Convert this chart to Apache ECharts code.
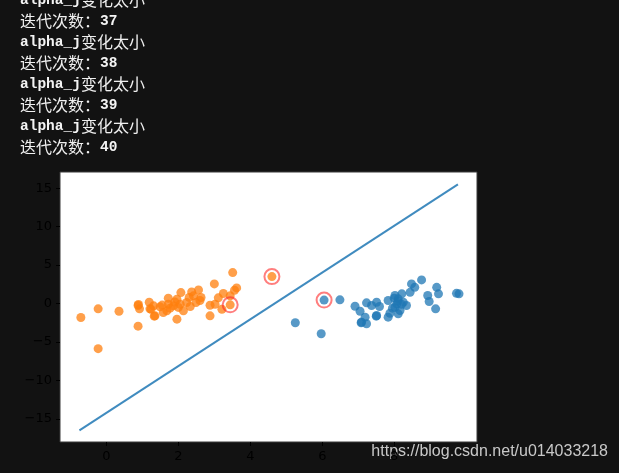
<!DOCTYPE html>
<html><head><meta charset="utf-8">
<script src="https://cdn.jsdelivr.net/npm/echarts@6/dist/echarts.min.js"></script>
<style>html,body{margin:0;padding:0;background:#121212;}#c{width:619px;height:473px;}</style>
</head><body><div id="c"></div>
<script>
const consoleLines = ["alpha_j变化太小","迭代次数：37","alpha_j变化太小","迭代次数：38","alpha_j变化太小","迭代次数：39","alpha_j变化太小","迭代次数：40"];
const orangePoints = [[-0.71,-1.81],[-0.23,-0.69],[0.35,-1.0],[-0.23,-5.87],[0.88,-2.94],[0.88,-0.26],[0.92,-0.69],[1.19,0.17],[1.21,-0.69],[1.33,-1.64],
[3.51,4.02],[3.0,2.55],[3.62,2.03],[3.56,1.73],[2.56,1.77],[2.37,1.51],[2.07,1.42],[3.25,1.30],[3.44,1.00],[2.63,0.78],[2.42,1.0],[3.11,0.74],[1.72,0.69],[1.96,0.56],[0.89,-0.13],[1.31,-0.3],[1.49,-0.43],[1.72,-0.09],[1.86,-0.3],[2.05,-0.09],[2.23,0.13],[2.33,-0.39],[2.14,-0.95],[1.68,-0.95],[1.35,-1.6],[1.96,-2.03],[1.24,-0.74],[1.58,-1.17],[2.88,-0.22],[3.02,-0.09],[3.21,-0.74],[2.88,-1.6],[3.44,-0.17],[2.49,0.13],[1.77,-0.6],[4.6,3.5],[1.9,0.2],[2.6,0.4],[1.55,-0.2],[2.0,-0.5],[2.3,0.8]];
const bluePoints = [[6.05,0.45],[6.49,0.48],[5.25,-2.5],[5.97,-3.93],[6.91,-0.35],[7.05,-1.0],[7.19,-1.77],[7.09,-2.42],[7.23,-2.63],[7.23,0.09],[7.37,-0.26],[7.51,0.17],[7.59,-0.39],[7.51,-1.55],[7.83,0.39],[7.88,-1.26],[7.83,-1.77],[8.02,1.04],[8.07,-0.04],[8.11,0.61],[8.16,-0.91],[8.21,1.26],[8.25,0.17],[8.34,-0.26],[8.44,1.46],[8.48,2.55],[8.57,2.11],[8.76,3.07],[8.02,-0.48],[8.11,-1.34],[8.93,1.04],[8.97,0.26],[9.18,2.11],[9.23,1.26],[9.15,-0.69],[9.73,1.33],[9.8,1.26],[7.08,-2.5],[7.5,-1.64],[8.1,0.3],[8.2,-0.1],[8.0,0.7],[7.95,-0.6]];
const supportVectors = [[3.44,-0.17],[4.6,3.5],[6.05,0.45]];
const lineX = [-0.75, 9.77];
const lineY = [-16.5, 15.5];
const xTicks = [0,2,4,6,8];
const yTicks = [-15,-10,-5,0,5,10,15];
const watermark = "https://blog.csdn.net/u014033218";

function richLine(s){
  let out='', cur='', curType=null;
  for(const ch of s){
    const t = ch.charCodeAt(0) < 128 ? 'a' : 'c';
    if(t!==curType && cur){ out += '{'+curType+'|'+cur+'}'; cur=''; }
    curType=t; cur+=ch;
  }
  if(cur) out += '{'+curType+'|'+cur+'}';
  return out;
}
const consoleGraphics = consoleLines.map((s,i)=>({
  type:'text', left:20, top: -8 + i*21,
  style:{ text: richLine(s), fill:'#f0f0f0',
    rich:{ a:{fontFamily:'Liberation Mono, DejaVu Sans Mono, monospace', fontSize:14.5, fontWeight:'bold', fill:'#f4f4f4', lineHeight:20},
           c:{fontFamily:'Noto Sans CJK SC', fontSize:16, fill:'#f0f0f0', lineHeight:20} } }
}));

const chart = echarts.init(document.getElementById('c'), null, {renderer:'canvas'});
const minus = v => String(v).replace('-', '\u2212');
chart.setOption({
  backgroundColor:'#121212',
  animation:false,
  grid:{left:60, top:172, right:142, bottom:31, show:true, backgroundColor:'#ffffff', borderColor:'#3a3a3a', borderWidth:1},
  xAxis:{type:'value', min:-1.29, max:10.3, position:'bottom',
    axisLine:{show:false, onZero:false}, splitLine:{show:false},
    axisTick:{show:true, customValues:xTicks, length:4, lineStyle:{color:'#000'}},
    axisLabel:{customValues:xTicks, color:'#000', fontSize:13, fontFamily:'DejaVu Sans', formatter:minus, margin:8}},
  yAxis:{type:'value', min:-18, max:17.1, position:'left',
    axisLine:{show:false, onZero:false}, splitLine:{show:false},
    axisTick:{show:true, customValues:yTicks, length:4, lineStyle:{color:'#000'}},
    axisLabel:{customValues:yTicks, color:'#000', fontSize:13, fontFamily:'DejaVu Sans', formatter:minus, margin:8}},
  graphic: consoleGraphics.concat([{
    type:'text', right:11, top:444,
    style:{text:watermark, fill:'#c8c8c8', fontFamily:'Liberation Sans, Arial, sans-serif', fontSize:16}
  }]),
  series:[
    {type:'scatter', data:bluePoints, symbolSize:9, itemStyle:{color:'#1f77b4', opacity:0.75}, z:2},
    {type:'scatter', data:orangePoints, symbolSize:9, itemStyle:{color:'#ff7f0e', opacity:0.75}, z:2},
    {type:'line', data:lineX.map((x,i)=>[x,lineY[i]]), showSymbol:false, symbol:'none', lineStyle:{color:'#1f77b4', width:2, opacity:0.85}, z:3},
    {type:'scatter', data:supportVectors, symbolSize:15, itemStyle:{color:'rgba(0,0,0,0)', borderColor:'rgba(255,40,40,0.75)', borderWidth:2}, z:4}
  ]
});
</script></body></html>
